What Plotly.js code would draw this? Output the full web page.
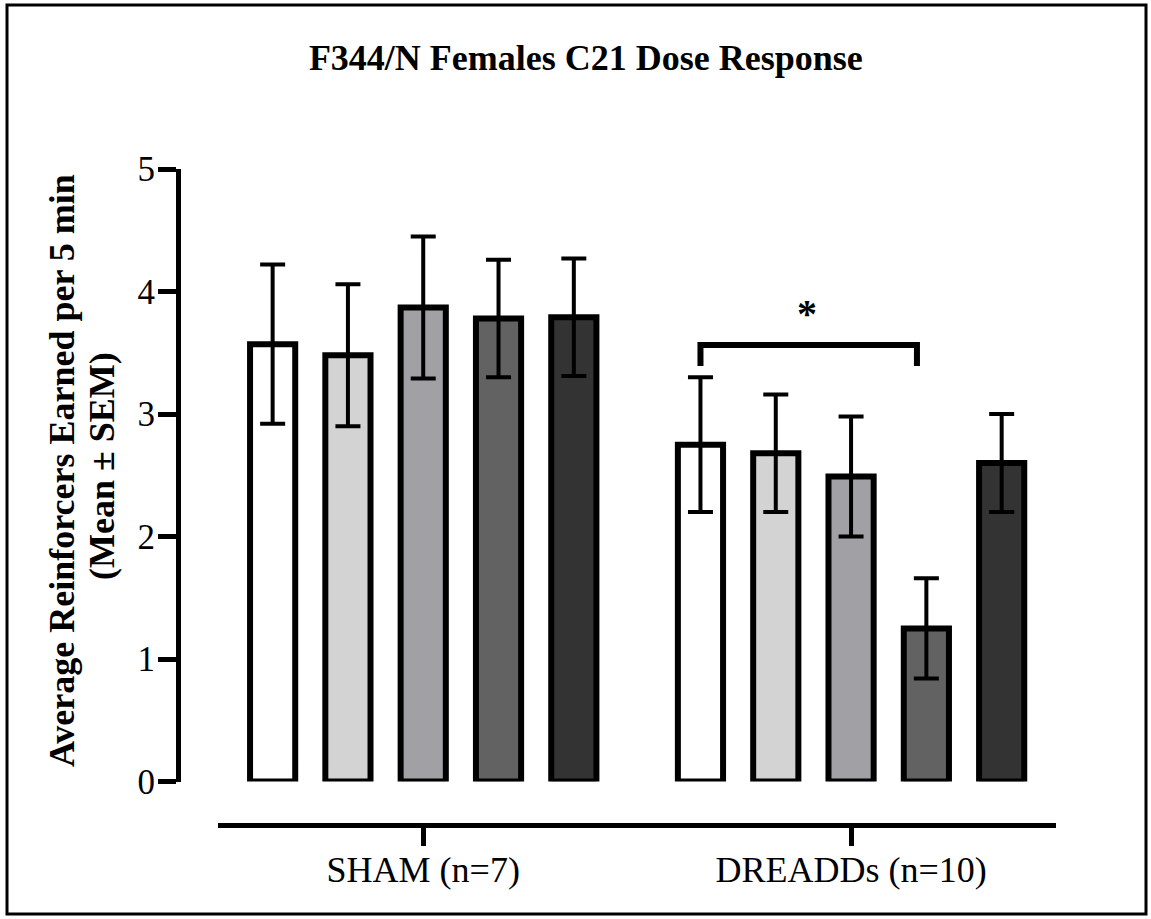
<!DOCTYPE html>
<html>
<head>
<meta charset="utf-8">
<script src="https://cdn.plot.ly/plotly-3.0.1.min.js"></script>
<style>html,body{margin:0;padding:0;background:#fff;}#chart{width:1151px;height:919px;}</style>
</head>
<body>
<div id="chart"></div>
<script>
// ---- data ----
const groups = ["SHAM (n=7)", "DREADDs (n=10)"];
const doseNames = ["Dose 1", "Dose 2", "Dose 3", "Dose 4", "Dose 5"];
const dose1Mean = [3.57, 2.75];
const dose1Sem  = [0.65, 0.55];
const dose2Mean = [3.48, 2.68];
const dose2Sem  = [0.58, 0.48];
const dose3Mean = [3.87, 2.49];
const dose3Sem  = [0.58, 0.49];
const dose4Mean = [3.78, 1.25];
const dose4Sem  = [0.48, 0.41];
const dose5Mean = [3.79, 2.60];
const dose5Sem  = [0.48, 0.40];
const yTicks = [0, 1, 2, 3, 4, 5];
const fills = ["#ffffff", "#d3d3d3", "#a1a0a5", "#626262", "#333333"];

const means = [dose1Mean, dose2Mean, dose3Mean, dose4Mean, dose5Mean];
const sems  = [dose1Sem, dose2Sem, dose3Sem, dose4Sem, dose5Sem];

const serif = "Liberation Serif, Times New Roman, serif";

const traces = means.map((m, i) => ({
  type: "bar",
  name: doseNames[i],
  x: groups,
  y: m,
  cliponaxis: false,
  marker: { color: fills[i], line: { color: "#000", width: 6 } },
  error_y: { type: "data", array: sems[i], visible: true, color: "#000", thickness: 4, width: 12.5 },
  showlegend: false,
  hoverinfo: "skip"
}));

// plot geometry helpers (paper fractions)
const W = 1151, H = 919;
const mL = 178, mR = 95, mT = 169, mB = 94;
const pw = W - mL - mR, ph = H - mT - mB;
const px = v => (v - mL) / pw;
const py = v => (H - mB - v) / ph;

// bracket over DREADDs dose 1 vs dose 4 (significance marker)
const brX0 = 0.648, brX1 = 1.154, brTop = 3.563, brLeg = 3.392;

const layout = {
  width: W, height: H,
  margin: { l: mL, r: mR, t: mT, b: mB },
  paper_bgcolor: "#fff", plot_bgcolor: "rgba(0,0,0,0)",
  barmode: "group",
  bargap: 0.12,
  bargroupgap: 0.40,
  font: { family: serif, color: "#000" },
  title: {
    text: "<b>F344/N Females C21 Dose Response</b>",
    font: { family: serif, size: 36, color: "#000" },
    xref: "container", x: 0.509, xanchor: "center",
    yref: "container", y: 1 - 57 / H, yanchor: "middle"
  },
  xaxis: {
    type: "category",
    domain: [px(218.3), 1],
    range: [-0.479, 1.479],
    anchor: "free", position: 0,
    showline: true, linecolor: "#000", linewidth: 5,
    ticks: "outside", ticklen: 18, tickwidth: 5, tickcolor: "#000",
    ticklabelstandoff: -7,
    showgrid: false, zeroline: false,
    tickfont: { family: serif, size: 36, color: "#000" },
    fixedrange: true
  },
  yaxis: {
    domain: [py(781.5), 1],
    range: [0, 5],
    anchor: "free", position: 0,
    showline: true, linecolor: "#000", linewidth: 5,
    ticks: "outside", ticklen: 18, tickwidth: 5, tickcolor: "#000",
    ticklabelstandoff: -4,
    tickvals: yTicks, ticktext: yTicks.map(String),
    showgrid: false, zeroline: false,
    tickfont: { family: serif, size: 35, color: "#000" },
    fixedrange: true
  },
  shapes: [
    { type: "path", xref: "x", yref: "y",
      path: `M ${brX0},${brLeg} L ${brX0},${brTop} L ${brX1},${brTop} L ${brX1},${brLeg}`,
      line: { color: "#000", width: 6 } },
    { type: "rect", xref: "paper", yref: "paper",
      x0: px(7), x1: px(1146), y0: py(914), y1: py(5),
      line: { color: "#000", width: 3 }, fillcolor: "rgba(0,0,0,0)" }
  ],
  annotations: [
    { text: "<b>*</b>", xref: "x", yref: "y", x: 0.898, y: 3.82,
      showarrow: false, font: { family: serif, size: 40, color: "#000" },
      xanchor: "center", yanchor: "middle" },
    { text: "<b>Average Reinforcers Earned per 5 min</b>", xref: "paper", yref: "paper",
      x: px(62), y: py(471), textangle: -90, showarrow: false,
      font: { family: serif, size: 36, color: "#000" }, xanchor: "center", yanchor: "middle" },
    { text: "<b>(Mean ± SEM)</b>", xref: "paper", yref: "paper",
      x: px(102), y: py(466), textangle: -90, showarrow: false,
      font: { family: serif, size: 36, color: "#000" }, xanchor: "center", yanchor: "middle" }
  ]
};

Plotly.newPlot("chart", traces, layout, { displayModeBar: false, staticPlot: true });
</script>
</body>
</html>
